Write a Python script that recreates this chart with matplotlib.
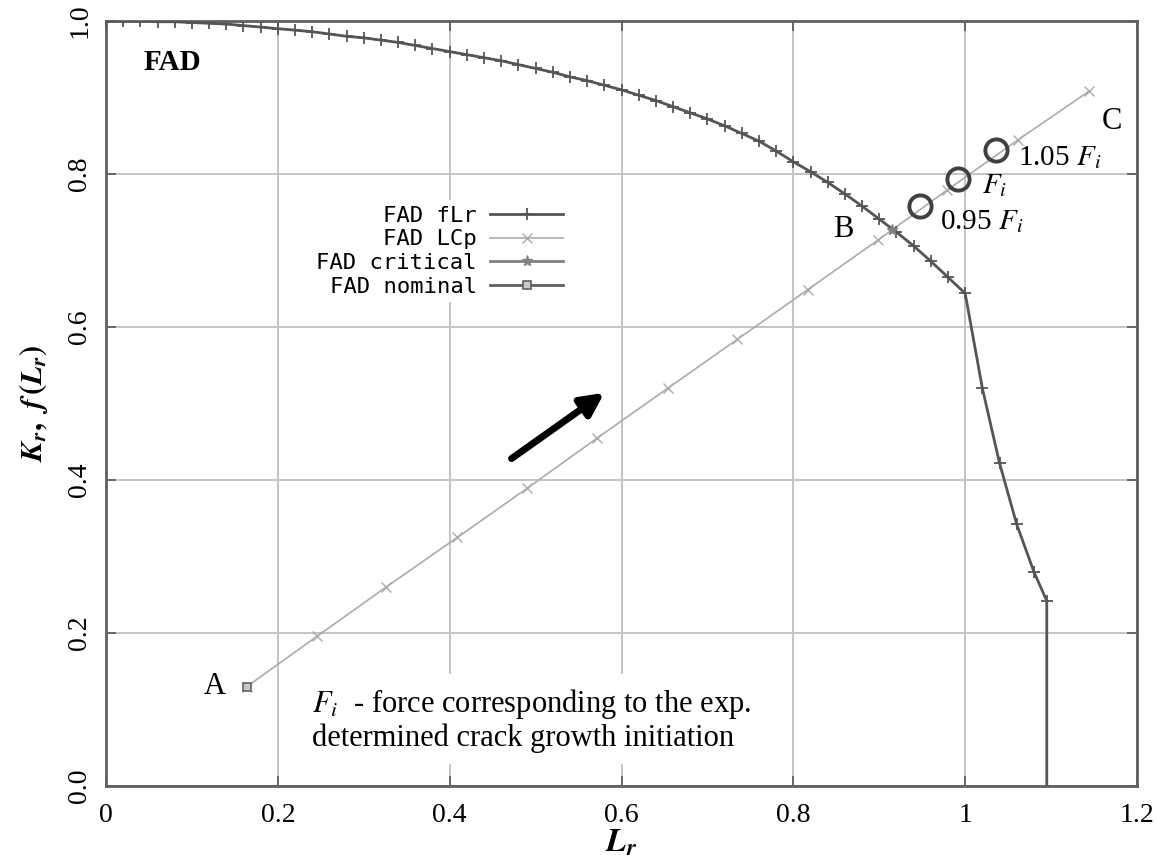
import numpy as np
import matplotlib.pyplot as plt

plt.rcParams['font.family'] = ['Liberation Serif', 'DejaVu Serif']
plt.rcParams['mathtext.fontset'] = 'stix'

# FAD curve f(Lr): markers every 0.02 up to Lr = 1, then the steep part and the cut-off at Lr_max
lr_flr = [0.00, 0.02, 0.04, 0.06, 0.08, 0.10, 0.12, 0.14, 0.16, 0.18,
          0.20, 0.22, 0.24, 0.26, 0.28, 0.30, 0.32, 0.34, 0.36, 0.38,
          0.40, 0.42, 0.44, 0.46, 0.48, 0.50, 0.52, 0.54, 0.56, 0.58,
          0.60, 0.62, 0.64, 0.66, 0.68, 0.70, 0.72, 0.74, 0.76, 0.78,
          0.80, 0.82, 0.84, 0.86, 0.88, 0.90, 0.92, 0.94, 0.96, 0.98,
          1.00, 1.02, 1.04, 1.06, 1.08, 1.095, 1.095]
kr_flr = [1.000, 1.000, 1.000, 0.999, 0.999, 0.998, 0.997, 0.996, 0.994, 0.992,
          0.990, 0.988, 0.986, 0.983, 0.980, 0.978, 0.975, 0.972, 0.968, 0.964,
          0.960, 0.956, 0.952, 0.948, 0.943, 0.938, 0.933, 0.927, 0.922, 0.916,
          0.910, 0.903, 0.896, 0.888, 0.880, 0.872, 0.863, 0.853, 0.843, 0.830,
          0.816, 0.803, 0.789, 0.774, 0.758, 0.741, 0.724, 0.706, 0.686, 0.665,
          0.644, 0.520, 0.422, 0.342, 0.280, 0.242, 0.000]

# loading path LCp, starting at the nominal point A
lr_lcp = [0.164, 0.246, 0.326, 0.409, 0.490, 0.572, 0.654, 0.735, 0.817, 0.899, 0.979, 1.062, 1.144]
kr_lcp = [0.130, 0.196, 0.260, 0.325, 0.389, 0.455, 0.520, 0.584, 0.649, 0.714, 0.779, 0.845, 0.908]

lr_crit = [0.915]
kr_crit = [0.727]
lr_nom = [0.164]
kr_nom = [0.130]

# experimental forces (0.95, 1.0, 1.05 F_i)
lr_force = [0.947, 0.992, 1.036]
kr_force = [0.758, 0.794, 0.832]
force_labels = ['0.95 $F_i$', '$F_i$', '1.05 $F_i$']
force_offsets = [(15, -11), (17, -5), (16, -6)]

arrow_start = (0.472, 0.428)
arrow_end = (0.580, 0.514)

x_ticks = [0, 0.2, 0.4, 0.6, 0.8, 1.0, 1.2]
x_ticklabels = ['0', '0.2', '0.4', '0.6', '0.8', '1', '1.2']
y_ticks = [0.0, 0.2, 0.4, 0.6, 0.8, 1.0]
y_ticklabels = ['0.0', '0.2', '0.4', '0.6', '0.8', '1.0']

fig = plt.figure(figsize=(11.59, 8.56), dpi=100)
ax = fig.add_axes([106 / 1159, 1 - 786 / 856, 1031 / 1159, 765 / 856])

ax.set_xlim(0, 1.2)
ax.set_ylim(0, 1.0)
ax.grid(True, color='#c4c4c4', lw=1.4, zorder=0)
ax.set_axisbelow(True)

l1, = ax.plot(lr_flr, kr_flr, color='#555555', lw=2, marker='+', ms=8, mew=1.3,
              markevery=list(range(len(lr_flr) - 1)), label='FAD fLr', zorder=4)
l2, = ax.plot(lr_lcp, kr_lcp, color='#ababab', lw=1.2, marker='x', ms=7, mew=1,
              label='FAD LCp', zorder=3)
l3, = ax.plot(lr_crit, kr_crit, color='#808080', lw=2, marker='*', ms=8,
              ls='-', label='FAD critical', zorder=5)
l4, = ax.plot(lr_nom, kr_nom, color='#606060', lw=2, marker='s', ms=6,
              mfc='#c8c8c8', mew=1.2, label='FAD nominal', zorder=5)

ax.plot(lr_force, kr_force, ls='none', marker='o', ms=16, mfc='none',
        mec='#404040', mew=2.8, zorder=6)
for x, y, lab, off in zip(lr_force, kr_force, force_labels, force_offsets):
    ax.annotate(lab, (x, y), xytext=off, textcoords='offset points',
                ha='left', va='center', fontsize=21)

ax.annotate('', xy=arrow_end, xytext=arrow_start,
            arrowprops=dict(arrowstyle='-|>', lw=5, color='black',
                            mutation_scale=34, shrinkA=0, shrinkB=0))

ax.text(lr_nom[0], kr_nom[0], 'A   ', ha='right', va='center', fontsize=22)
ax.text(lr_crit[0], kr_crit[0], 'B     ', ha='right', va='center', fontsize=22)
ax.annotate('C', (lr_lcp[-1], kr_lcp[-1]), xytext=(9, -22),
            textcoords='offset points', ha='left', va='center', fontsize=22)
ax.text(0.044, 0.946, 'FAD', fontsize=21, fontweight='bold', ha='left', va='center')

ax.text(0.240, 0.130,
        '$F_i$  - force corresponding to the exp.\ndetermined crack growth initiation',
        ha='left', va='top', fontsize=22, linespacing=1.15, zorder=5,
        bbox=dict(facecolor='white', edgecolor='none', pad=8))

leg = ax.legend(handles=[l1, l2, l3, l4], loc='upper right',
                bbox_to_anchor=(0.449, 0.766), markerfirst=False, numpoints=1,
                handlelength=3.3, handletextpad=0.6, labelspacing=0.17,
                borderpad=0.25, borderaxespad=0, frameon=True, fancybox=False,
                framealpha=1, facecolor='white', edgecolor='none',
                prop={'family': 'DejaVu Sans Mono', 'size': 16})
# right-align the labels like gnuplot does
for col in leg._legend_box._children[-1]._children:
    col.align = 'right'

ax.set_xticks(x_ticks)
ax.set_xticklabels(x_ticklabels, fontsize=20)
ax.set_yticks(y_ticks)
ax.set_yticklabels(y_ticklabels, fontsize=20, rotation=90, va='center')
ax.tick_params(direction='in', length=7, width=1.3, color='#606060',
               top=True, right=True, pad=10)
ax.tick_params(axis='x', pad=12)

for sp in ax.spines.values():
    sp.set_color('#606060')
    sp.set_linewidth(2)

ax.set_xlabel(r'$\mathbfit{L_r}$', fontsize=24, labelpad=0)
ax.set_ylabel(r'$\mathbfit{K_r}\mathbf{,}\ \ \mathbfit{f}\,\mathbf{(}\mathbfit{L_r}\mathbf{)}$',
              fontsize=22, labelpad=12)

fig.savefig('out.png', dpi=100)
